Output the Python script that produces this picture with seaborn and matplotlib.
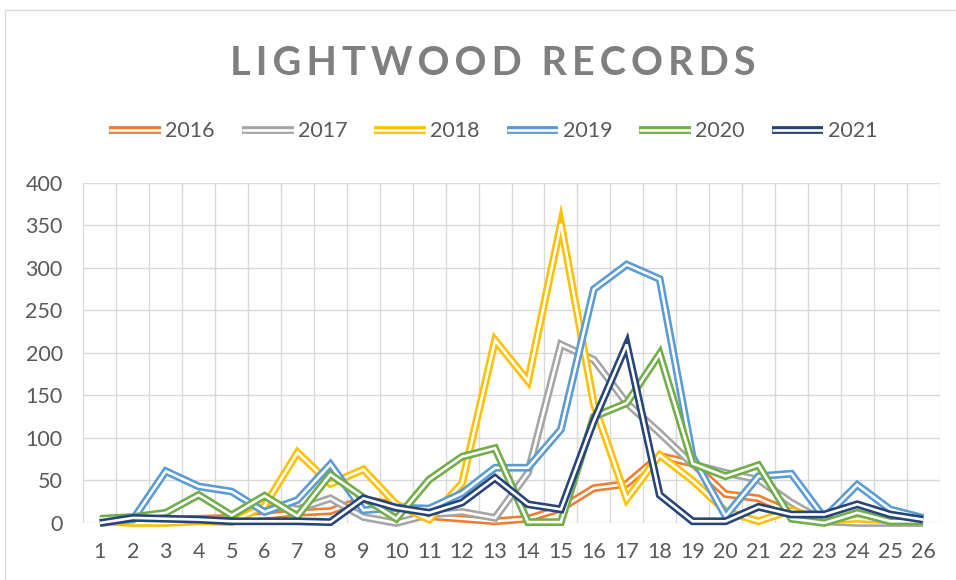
import numpy as np
import pandas as pd
import seaborn as sns
import matplotlib.pyplot as plt
import matplotlib.patheffects as pe
from matplotlib.lines import Line2D

days = list(range(1, 27))
years = ['2016', '2017', '2018', '2019', '2020', '2021']

rec_2016 = [2, 4, 4, 5, 6, 8, 12, 14, 28, 21, 8, 5, 2, 5, 17, 41, 46, 79, 70, 34, 29, 12, 3, 5, 4, 1]
rec_2017 = [0, 3, 3, 3, 3, 25, 16, 29, 7, 0, 10, 13, 6, 59, 210, 192, 141, 106, 69, 59, 51, 24, 2, 0, 0, 0]
rec_2018 = [2, 0, 0, 2, 1, 20, 83, 46, 63, 22, 4, 47, 215, 167, 352, 140, 28, 80, 50, 14, 2, 15, 3, 5, 3, 2]
rec_2019 = [2, 4, 61, 43, 37, 13, 27, 69, 15, 18, 17, 35, 65, 65, 110, 275, 304, 287, 78, 8, 55, 58, 6, 45, 16, 6]
rec_2020 = [5, 7, 12, 33, 9, 32, 8, 57, 30, 5, 51, 78, 88, 1, 1, 125, 141, 199, 70, 55, 68, 5, 0, 12, 2, 2]
rec_2021 = [0, 6, 5, 4, 2, 2, 2, 1, 29, 18, 12, 24, 53, 22, 16, 120, 210, 33, 2, 2, 19, 10, 10, 22, 10, 4]

colors = ['#ED7D31', '#A5A5A5', '#FFC000', '#5B9BD5', '#70AD47', '#264478']

df = pd.DataFrame({
    'day': days * 6,
    'year': np.repeat(years, len(days)),
    'records': rec_2016 + rec_2017 + rec_2018 + rec_2019 + rec_2020 + rec_2021,
})

sns.set_style('whitegrid')
plt.rcParams['font.family'] = ['Lato', 'DejaVu Sans']

fig = plt.figure(figsize=(9.56, 5.8), dpi=100)
ax = fig.add_axes([0.0873, 0.0983, 0.8955, 0.5862])

sns.lineplot(data=df, x='day', y='records', hue='year', palette=colors,
             linewidth=5, legend=False, ax=ax)

# excel style "double" lines: thick colour stroke with a thin white core
for line, c in zip(ax.get_lines(), colors):
    line.set_color('white')
    line.set_linewidth(1.9)
    line.set_solid_joinstyle('miter')
    line.set_solid_capstyle('butt')
    line.set_clip_on(False)
    line.set_path_effects([pe.Stroke(linewidth=5.6, foreground=c), pe.Normal()])

ax.set_xlim(0.5, 26.5)
ax.set_ylim(0, 400)
ax.set_xticks(days)
ax.set_xticks(np.arange(0.5, 27, 1), minor=True)
ax.set_yticks(range(0, 401, 50))
ax.grid(False)
ax.grid(which='major', axis='y', color='#D9D9D9', lw=1)
ax.grid(which='minor', axis='x', color='#D9D9D9', lw=1)
ax.set_axisbelow(True)
for s in ax.spines.values():
    s.set_visible(False)
ax.set_xlabel('')
ax.set_ylabel('')
ax.tick_params(which='both', length=0, labelsize=15.5, colors='#595959')
ax.tick_params(axis='x', pad=14)
ax.tick_params(axis='y', pad=15)

fig.legend(handles=ax.get_lines(), labels=years, loc='center',
           bbox_to_anchor=(0.516, 0.774), ncol=6, frameon=False, fontsize=15.5,
           handlelength=2.4, handletextpad=0.2, columnspacing=1.25,
           labelcolor='#595959')

title = '\u200a\u200a'.join('LIGHTWOOD RECORDS')
fig.text(0.516, 0.8707, title, ha='center', va='baseline', fontsize=28.5,
         fontweight='bold', color='#7F7F7F')

# chart area border (only left and top visible in the crop)
fig.add_artist(Line2D([4.5 / 956, 4.5 / 956, 1], [0, 1 - 10 / 580, 1 - 10 / 580],
                      transform=fig.transFigure, color='#D9D9D9', lw=1))

fig.savefig('out.png', dpi=100)
